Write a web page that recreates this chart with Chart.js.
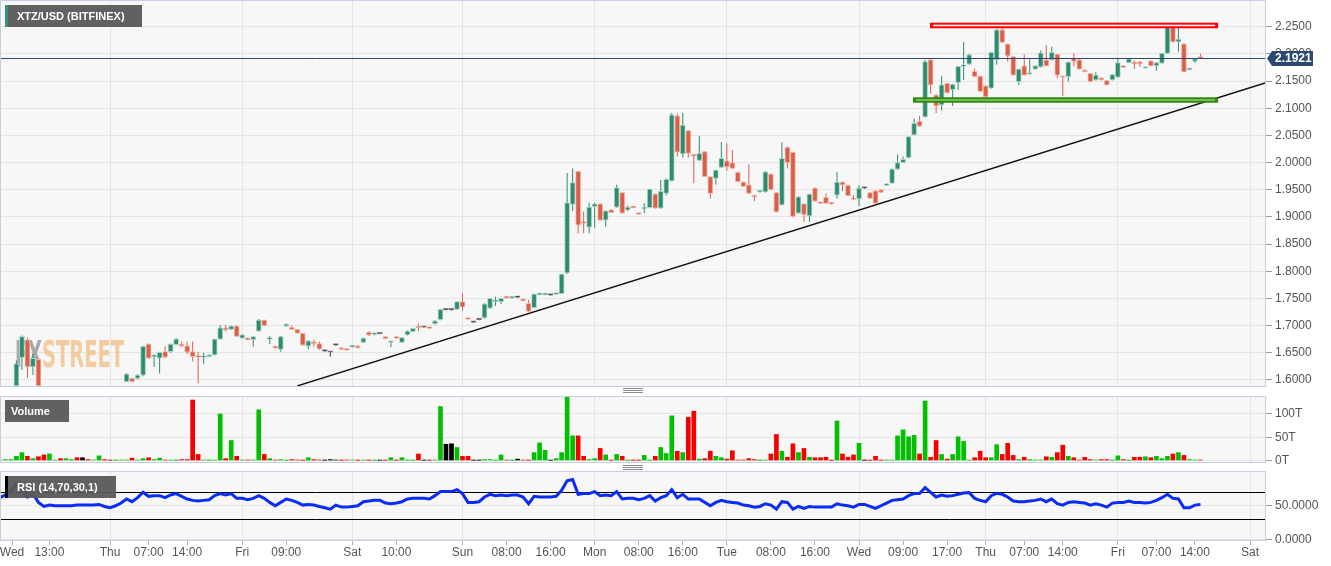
<!DOCTYPE html>
<html>
<head>
<meta charset="utf-8">
<script src="https://cdn.jsdelivr.net/npm/chart.js@4.4.0/dist/chart.umd.min.js"></script>
<style>
  body { margin: 0; background: #fff; width: 1331px; height: 566px; overflow: hidden; font-family: "Liberation Sans", Arial, sans-serif; }
  .pane { position: absolute; left: 0; width: 1331px; }
  .tag { position: absolute; height: 22px; line-height: 22px; background: rgba(88,88,88,0.95); color: #fff; font-weight: bold; font-size: 11px; box-sizing: border-box; white-space: nowrap; }
  .grip { position: absolute; left: 623px; width: 20px; height: 1px; background: #8a8a8a; box-shadow: 0 2px 0 #8a8a8a, 0 4px 0 #8a8a8a; }
</style>
</head>
<body>
<div class="pane" style="top:0;height:388px"><canvas id="mainChart"></canvas></div>
<div class="pane" style="top:392px;height:76px"><canvas id="volChart"></canvas></div>
<div class="pane" style="top:468px;height:98px"><canvas id="rsiChart"></canvas></div>
<div class="grip" style="top:388px"></div>
<div class="grip" style="top:465px"></div>
<div class="tag" style="left:5px;top:5px;width:137px;border-left:3px solid #3b8f7b;padding-left:9px">XTZ/USD (BITFINEX)</div>
<div class="tag" style="left:5px;top:400px;width:64px;padding-left:6px">Volume</div>
<div class="tag" style="left:5px;top:476px;width:111px;border-left:3px solid #000;padding-left:9px">RSI (14,70,30,1)</div>
<script>
// hourly candles, slot -3 is the first one (partly below the visible range)
const firstSlot = -3;

const opens = [
  1.572,1.574,1.577,1.580,1.641,1.674,1.624,1.638,1.576,1.571,
  1.578,1.579,1.575,1.578,1.579,1.575,1.575,1.574,1.575,1.580,
  1.576,1.574,1.577,1.597,1.603,1.603,1.609,1.666,1.643,1.640,
  1.652,1.652,1.665,1.666,1.663,1.652,1.645,1.642,1.643,1.646,
  1.675,1.696,1.693,1.699,1.677,1.677,1.674,1.690,1.710,1.675,
  1.662,1.656,1.699,1.697,1.693,1.686,1.662,1.670,1.667,1.653,
  1.651,1.664,1.659,1.657,1.661,1.663,1.669,1.688,1.684,1.685,
  1.680,1.669,1.679,1.669,1.683,1.689,1.697,1.697,1.697,1.703,
  1.711,1.729,1.729,1.730,1.744,1.713,1.706,1.711,1.714,1.732,
  1.744,1.744,1.752,1.751,1.752,1.749,1.741,1.733,1.757,1.757,
  1.756,1.758,1.759,1.797,1.923,1.984,1.889,1.881,1.919,1.924,
  1.894,1.913,1.918,1.945,1.913,1.918,1.906,1.915,1.917,1.942,
  1.916,1.943,1.966,2.086,2.016,2.059,2.015,2.004,2.020,1.974,
  1.971,1.991,2.003,2.000,1.982,1.964,1.959,1.940,1.946,1.946,
  1.979,1.945,1.922,2.028,2.019,1.907,1.924,1.902,1.953,1.926,
  1.936,1.925,1.940,1.964,1.958,1.933,1.933,1.953,1.945,1.948,
  1.950,1.958,1.962,1.988,2.000,2.009,2.051,2.076,2.084,2.189,
  2.124,2.106,2.146,2.134,2.147,2.177,2.181,2.168,2.159,2.141,
  2.137,2.189,2.244,2.218,2.195,2.149,2.178,2.163,2.172,2.176,
  2.189,2.189,2.199,2.158,2.158,2.192,2.189,2.170,2.164,2.152,
  2.156,2.151,2.152,2.157,2.178,2.184,2.183,2.183,2.174,2.187,
  2.178,2.183,2.201,2.250,2.222,2.218,2.171,2.186,2.195
];
const highs = [
  1.576,1.579,1.583,1.636,1.682,1.678,1.649,1.640,1.580,1.582,
  1.580,1.581,1.580,1.580,1.580,1.577,1.576,1.576,1.582,1.581,
  1.577,1.579,1.586,1.613,1.604,1.611,1.663,1.667,1.647,1.652,
  1.662,1.667,1.677,1.671,1.671,1.671,1.652,1.650,1.647,1.676,
  1.701,1.701,1.700,1.701,1.684,1.678,1.681,1.712,1.711,1.681,
  1.663,1.681,1.704,1.700,1.694,1.687,1.673,1.674,1.671,1.654,
  1.652,1.665,1.660,1.658,1.663,1.664,1.678,1.689,1.687,1.686,
  1.681,1.672,1.681,1.679,1.691,1.696,1.704,1.698,1.698,1.710,
  1.731,1.730,1.730,1.745,1.759,1.714,1.707,1.712,1.741,1.751,
  1.753,1.751,1.753,1.753,1.753,1.750,1.747,1.759,1.760,1.759,
  1.757,1.760,1.796,1.981,1.989,1.985,1.910,1.926,1.926,1.925,
  1.912,1.914,1.959,1.946,1.921,1.919,1.907,1.925,1.952,1.943,
  1.968,1.971,2.091,2.090,2.091,2.060,2.016,2.049,2.021,1.975,
  1.987,2.038,2.035,2.023,1.983,1.965,1.997,1.941,1.948,1.984,
  1.980,1.946,2.037,2.030,2.020,1.938,1.925,1.943,1.954,1.927,
  1.943,1.926,1.983,1.965,1.959,1.940,1.958,1.954,1.946,1.949,
  1.951,1.962,1.989,2.015,2.011,2.049,2.081,2.086,2.189,2.190,
  2.126,2.159,2.147,2.145,2.178,2.222,2.200,2.173,2.160,2.142,
  2.204,2.246,2.247,2.219,2.196,2.173,2.199,2.190,2.179,2.206,
  2.216,2.213,2.200,2.159,2.186,2.201,2.190,2.171,2.165,2.166,
  2.157,2.152,2.163,2.193,2.179,2.192,2.188,2.187,2.176,2.188,
  2.185,2.202,2.252,2.254,2.252,2.220,2.173,2.192,2.200
];
const lows = [
  1.570,1.572,1.575,1.578,1.619,1.604,1.609,1.572,1.566,1.569,
  1.576,1.573,1.574,1.577,1.573,1.573,1.572,1.573,1.574,1.575,
  1.573,1.573,1.576,1.596,1.596,1.601,1.607,1.639,1.624,1.612,
  1.640,1.650,1.664,1.661,1.648,1.634,1.594,1.630,1.642,1.645,
  1.674,1.689,1.692,1.679,1.676,1.673,1.661,1.689,1.699,1.666,
  1.658,1.652,1.698,1.692,1.685,1.663,1.656,1.661,1.655,1.652,
  1.643,1.663,1.655,1.654,1.660,1.658,1.668,1.681,1.682,1.684,
  1.675,1.660,1.676,1.668,1.682,1.688,1.690,1.696,1.694,1.702,
  1.710,1.728,1.728,1.729,1.727,1.711,1.705,1.710,1.713,1.731,
  1.736,1.740,1.750,1.750,1.751,1.745,1.725,1.732,1.756,1.756,
  1.755,1.757,1.758,1.795,1.911,1.870,1.870,1.870,1.880,1.893,
  1.882,1.907,1.917,1.906,1.911,1.916,1.904,1.907,1.916,1.915,
  1.915,1.940,1.965,2.011,2.009,2.009,1.962,2.003,1.973,1.934,
  1.959,1.990,1.985,1.988,1.964,1.955,1.942,1.929,1.945,1.945,
  1.949,1.908,1.921,1.989,1.899,1.906,1.891,1.891,1.928,1.924,
  1.924,1.923,1.934,1.947,1.938,1.931,1.920,1.952,1.933,1.924,
  1.944,1.957,1.961,1.987,1.999,2.008,2.050,2.066,2.083,2.127,
  2.091,2.096,2.127,2.104,2.134,2.152,2.180,2.157,2.130,2.115,
  2.136,2.180,2.220,2.186,2.160,2.143,2.160,2.162,2.171,2.175,
  2.177,2.188,2.155,2.122,2.149,2.177,2.171,2.166,2.148,2.151,
  2.151,2.142,2.151,2.156,2.174,2.183,2.172,2.176,2.173,2.177,
  2.169,2.182,2.200,2.221,2.204,2.166,2.170,2.183,2.191
];
const closes = [
  1.574,1.577,1.580,1.630,1.680,1.624,1.640,1.575,1.571,1.578,
  1.579,1.575,1.578,1.579,1.575,1.575,1.574,1.575,1.580,1.576,
  1.574,1.577,1.583,1.611,1.597,1.609,1.662,1.640,1.645,1.651,
  1.642,1.666,1.675,1.662,1.651,1.643,1.642,1.643,1.646,1.675,
  1.696,1.692,1.699,1.680,1.683,1.674,1.680,1.710,1.700,1.676,
  1.659,1.680,1.703,1.693,1.686,1.664,1.672,1.667,1.657,1.653,
  1.651,1.664,1.656,1.655,1.662,1.659,1.677,1.683,1.685,1.685,
  1.676,1.671,1.677,1.678,1.690,1.695,1.696,1.697,1.695,1.709,
  1.730,1.729,1.729,1.744,1.734,1.712,1.706,1.711,1.740,1.750,
  1.745,1.750,1.751,1.752,1.752,1.746,1.726,1.758,1.759,1.758,
  1.756,1.759,1.795,1.926,1.963,1.885,1.888,1.918,1.924,1.894,
  1.911,1.908,1.954,1.907,1.918,1.917,1.905,1.916,1.951,1.916,
  1.947,1.969,2.088,2.019,2.069,2.017,2.012,2.017,1.974,1.943,
  1.986,2.008,1.992,1.989,1.965,1.956,1.943,1.937,1.947,1.983,
  1.950,1.909,2.008,2.000,1.901,1.937,1.904,1.942,1.929,1.925,
  1.925,1.924,1.964,1.959,1.939,1.932,1.953,1.953,1.934,1.925,
  1.945,1.961,1.988,2.000,2.006,2.048,2.072,2.067,2.186,2.143,
  2.104,2.143,2.128,2.144,2.177,2.180,2.198,2.158,2.131,2.121,
  2.203,2.244,2.221,2.196,2.161,2.172,2.161,2.165,2.178,2.202,
  2.178,2.203,2.161,2.157,2.185,2.186,2.172,2.167,2.149,2.161,
  2.152,2.143,2.162,2.184,2.175,2.191,2.182,2.182,2.175,2.178,
  2.184,2.201,2.250,2.222,2.227,2.167,2.172,2.191,2.1921
];
// volume in thousands ("T")
const volumes = [
  1,2,2,9,17,9,4,8,12,14,
  1,4,4,2,6,6,2,1,10,2,
  0.5,0.5,1,1,5,1,4,6,2,5,
  1,1,0.5,2,2,130,13,1,0.5,1,
  100,4,43,9,1,1,1,109,13,4,
  1,2,0.5,2,1,0.5,6,2,1,0.5,
  2,1,0.5,1,1,0.5,1,0.5,0.5,0.5,
  0.5,6,0.5,6,0.5,0.5,14,0.5,0.5,1,
  116,35,36,28,9,9,0.5,0.5,2,2,
  0.5,12,1,0.5,3,1,0.5,17,38,22,
  0.5,4,17,139,53,53,9,2,4,26,
  12,0.5,13,9,0.5,0.5,0.5,11,0.5,9,
  28,15,96,20,17,93,106,3,4,20,
  9,6,3,21,1,1,4,2,0.5,1,
  14,56,20,7,36,17,26,7,6,6,
  7,0.5,85,14,7,12,37,0.5,0.5,9,
  0.5,1,1,53,66,51,54,14,128,7,
  43,13,3,13,51,41,1,6,20,6,
  6,34,13,37,11,2,7,2,1,1,
  8,7,17,33,9,6,1,7,2,1,
  2,2,0.5,10,2,0.5,7,7,8,6,
  9,4,9,14,17,11,2,1,1
];
const rsi = [
  62,66,72,83,72,63,68,55,49,51,
  50,50,50,50,51,51,51,51,52,49,
  47,50,54,60,56,62,70,64,65,65,
  62,66,68,64,60,58,57,58,59,65,
  68,66,68,61,61,59,61,65,61,55,
  50,55,60,58,55,51,52,51,49,47,
  45,51,48,48,49,50,56,57,58,58,
  54,53,54,56,60,61,61,61,60,65,
  71,71,71,74,68,55,55,56,63,67,
  65,66,65,66,66,63,53,64,63,63,
  63,64,73,87,89,67,68,68,71,65,
  66,65,71,60,61,61,59,61,65,57,
  62,65,74,62,67,60,60,60,55,50,
  55,58,56,55,54,51,50,48,49,53,
  51,45,56,55,45,49,46,49,48,48,
  48,48,53,51,50,48,52,52,49,46,
  50,54,58,59,60,65,68,68,77,70,
  63,66,64,65,67,69,69.5,61,58,56,
  65,68.5,67,63,57,56,56,57,58,60,
  56,60,53,51,55,56,55,54,51,53,
  51,48,54,55,55,57,55,55,54,55,
  58,62,67,61,60,47,47,51,52
];

// time axis: slot positions of the labels
const tickSlots  = [-0.8, 6, 17, 24, 31, 41, 49, 61, 69, 81, 89, 97, 105, 113, 121, 129, 137, 145, 153, 161, 169, 176, 183, 190, 200, 207, 214, 224];
const tickLabels = ['Wed','13:00','Thu','07:00','14:00','Fri','09:00','Sat','10:00','Sun','08:00','16:00','Mon','08:00','16:00','Tue','08:00','16:00','Wed','09:00','17:00','Thu','07:00','14:00','Fri','07:00','14:00','Sat'];
const daySlots = [17, 41, 61, 81, 105, 129, 153, 176, 200, 224];

const priceMin = 1.5889, priceMax = 2.2991;
const priceTicks = [1.60,1.65,1.70,1.75,1.80,1.85,1.90,1.95,2.00,2.05,2.10,2.15,2.20,2.25];
const volTicks = [0, 50, 100];
const rsiTicks = [0, 50];
const rsiUpper = 70, rsiLower = 30;

// drawn lines and zones: [slot, price]
const trendStart = [51, 1.589];
const trendEnd = [226.9, 2.147];
const resistanceZone = [165.9, 218.2, 2.2471, 2.2574];
const supportZone = [162.8, 218.2, 2.1101, 2.1201];
const lastPrice = closes[closes.length - 1];

const FONT = '"Liberation Sans", Arial, sans-serif';
Chart.defaults.font.family = FONT;

const xMin = -2.98, xMax = 226.9;
const slots = opens.map((_, k) => firstSlot + k);
const dir = k => closes[k] > opens[k] ? 1 : (closes[k] < opens[k] ? -1 : 0);
const bodyCol = k => ({ 1: '#2f8a6f', '-1': '#d85f4a', 0: '#333333' })[dir(k)];
const edgeCol = k => ({ 1: '#a6d4c4', '-1': '#f2b3a7', 0: '#8a8a8a' })[dir(k)];
const volCol = k => ({ 1: '#00c000', '-1': '#f40000', 0: '#000000' })[dir(k)];

// floating range cut at the bottom of the price pane (candles below it are off-screen)
function inView(lo, hi) {
  if (hi <= priceMin) return null;
  return [Math.max(lo, priceMin), hi];
}

function xAxis(showLabels) {
  return {
    type: 'linear', min: xMin, max: xMax, offset: false,
    afterBuildTicks: s => { s.ticks = tickSlots.map(v => ({ value: v })); },
    afterFit: s => { s.height = showLabels ? 26 : 0; s.paddingLeft = 0; s.paddingRight = 0; },
    grid: {
      offset: false,
      color: c => (c.tick && daySlots.includes(c.tick.value)) ? '#e5e5e5' : 'rgba(0,0,0,0)',
      drawTicks: showLabels, tickLength: 5, tickColor: '#b0b0b0'
    },
    border: { display: false },
    ticks: {
      display: showLabels, autoSkip: false, maxRotation: 0, padding: 0,
      color: '#555', font: { size: 12 },
      callback: (v, i) => tickLabels[i]
    }
  };
}

function yAxis(min, max, ticks, fmt) {
  return {
    position: 'right', min: min, max: max,
    afterBuildTicks: s => { s.ticks = ticks.map(v => ({ value: v })); },
    afterFit: s => { s.width = 65; s.paddingTop = 0; s.paddingBottom = 0; },
    grid: { color: '#e5e5e5', tickColor: '#9a9a9a', tickLength: 6 },
    border: { display: false },
    ticks: { padding: 3, color: '#555', font: { size: 12 }, callback: fmt }
  };
}

// plot background and frame for every pane
const paneFrame = {
  id: 'paneFrame',
  beforeDraw(chart) {
    const a = chart.chartArea, ctx = chart.ctx;
    ctx.save();
    ctx.fillStyle = '#f7f7f7';
    ctx.fillRect(a.left, a.top, a.right - a.left, a.bottom - a.top);
    ctx.restore();
  },
  afterDraw(chart) {
    const a = chart.chartArea, ctx = chart.ctx;
    ctx.save();
    ctx.strokeStyle = '#c6cfe1';
    ctx.lineWidth = 1;
    ctx.strokeRect(a.left + 0.5, a.top + 0.5, a.right - a.left - 1, a.bottom - a.top);
    ctx.restore();
  }
};

function drawZone(ctx, xs, ys, z, outer, inner) {
  const x1 = xs.getPixelForValue(z[0]), x2 = xs.getPixelForValue(z[1]);
  const yt = ys.getPixelForValue(z[3]), yb = ys.getPixelForValue(z[2]);
  ctx.fillStyle = outer;
  ctx.fillRect(x1, yt, x2 - x1, yb - yt);
  ctx.fillStyle = inner;
  ctx.fillRect(x1 + 3, yt + 2, x2 - x1 - 6, Math.max(1, yb - yt - 4));
}

const priceExtras = {
  id: 'priceExtras',
  beforeDatasetsDraw(chart) {
    const ctx = chart.ctx, a = chart.chartArea;
    ctx.save();
    ctx.globalAlpha = 0.85;
    ctx.font = 'bold 37px "DejaVu Sans Condensed", "DejaVu Sans", sans-serif';
    ctx.textBaseline = 'alphabetic';
    ctx.fillStyle = '#9b9b9b';
    ctx.fillText('FX', a.left + 15, 367, 27);
    ctx.fillStyle = '#f3c28f';
    ctx.fillText('STREET', a.left + 42, 367, 82);
    ctx.restore();
  },
  afterDatasetsDraw(chart) {
    const ctx = chart.ctx, a = chart.chartArea;
    const xs = chart.scales.x, ys = chart.scales.y;
    ctx.save();
    drawZone(ctx, xs, ys, resistanceZone, '#ff0000', '#fff2f2');
    drawZone(ctx, xs, ys, supportZone, '#2b8a0c', '#94cf72');
    const y = Math.round(ys.getPixelForValue(lastPrice)) + 0.5;
    ctx.strokeStyle = '#2c4a70';
    ctx.lineWidth = 1;
    ctx.beginPath();
    ctx.moveTo(a.left, y);
    ctx.lineTo(a.right, y);
    ctx.stroke();
    ctx.restore();
  },
  afterDraw(chart) {
    const ctx = chart.ctx, a = chart.chartArea, ys = chart.scales.y;
    const y = Math.round(ys.getPixelForValue(lastPrice)) + 0.5;
    const r = a.right;
    ctx.save();
    ctx.fillStyle = '#2c4a70';
    ctx.beginPath();
    ctx.moveTo(r + 1, y);
    ctx.lineTo(r + 6, y - 7.5);
    ctx.lineTo(r + 47, y - 7.5);
    ctx.lineTo(r + 47, y + 7.5);
    ctx.lineTo(r + 6, y + 7.5);
    ctx.closePath();
    ctx.fill();
    ctx.fillStyle = '#ffffff';
    ctx.font = 'bold 12px ' + FONT;
    ctx.textBaseline = 'middle';
    ctx.fillText(lastPrice.toFixed(4), r + 9, y + 0.5);
    ctx.restore();
  }
};

const rsiLevels = {
  id: 'rsiLevels',
  beforeDatasetsDraw(chart) {
    const ctx = chart.ctx, a = chart.chartArea, ys = chart.scales.y;
    ctx.save();
    ctx.strokeStyle = '#000';
    ctx.lineWidth = 1;
    [rsiUpper, rsiLower].forEach(v => {
      const y = Math.round(ys.getPixelForValue(v)) + 0.5;
      ctx.beginPath();
      ctx.moveTo(a.left, y);
      ctx.lineTo(a.right, y);
      ctx.stroke();
    });
    ctx.restore();
  }
};

const baseOpts = {
  responsive: true, maintainAspectRatio: false, animation: false, events: [],
  devicePixelRatio: 1,
  plugins: { legend: { display: false }, tooltip: { enabled: false } }
};

new Chart(document.getElementById('mainChart'), {
  type: 'bar',
  data: {
    datasets: [
      {
        data: slots.map((s, k) => ({ x: s, y: inView(lows[k], highs[k]) })),
        backgroundColor: slots.map((s, k) => bodyCol(k)),
        barThickness: 1, grouped: false, clip: 0, inflateAmount: 0, order: 2
      },
      {
        data: slots.map((s, k) => ({ x: s, y: inView(Math.min(opens[k], closes[k]), Math.max(opens[k], closes[k])) })),
        backgroundColor: slots.map((s, k) => bodyCol(k)),
        borderColor: slots.map((s, k) => edgeCol(k)),
        borderWidth: 1, borderSkipped: false, minBarLength: 1.5,
        barThickness: 5, grouped: false, clip: 0, order: 1
      },
      {
        type: 'line',
        data: [{ x: trendStart[0], y: trendStart[1] }, { x: trendEnd[0], y: trendEnd[1] }],
        borderColor: '#111', borderWidth: 1.4, pointRadius: 0, order: 0
      }
    ]
  },
  options: {
    ...baseOpts,
    layout: { padding: { top: 0, bottom: 2, left: 0, right: 0 } },
    scales: {
      x: xAxis(false),
      y: yAxis(priceMin, priceMax, priceTicks, v => v.toFixed(4))
    }
  },
  plugins: [paneFrame, priceExtras]
});

new Chart(document.getElementById('volChart'), {
  type: 'bar',
  data: {
    datasets: [{
      data: slots.map((s, k) => ({ x: s, y: volumes[k] })),
      backgroundColor: slots.map((s, k) => volCol(k)),
      barThickness: 4, clip: 0
    }]
  },
  options: {
    ...baseOpts,
    layout: { padding: { top: 4, bottom: 6, left: 0, right: 0 } },
    scales: {
      x: xAxis(false),
      y: yAxis(-3.2, 138.7, volTicks, v => v + 'T')
    }
  },
  plugins: [paneFrame]
});

new Chart(document.getElementById('rsiChart'), {
  type: 'line',
  data: {
    datasets: [{
      data: slots.map((s, k) => ({ x: s, y: rsi[k] })),
      borderColor: '#0a2cf5', borderWidth: 3, pointRadius: 0, tension: 0
    }]
  },
  options: {
    ...baseOpts,
    layout: { padding: { top: 3, bottom: 0, left: 0, right: 0 } },
    scales: {
      x: xAxis(true),
      y: yAxis(-0.7, 101.5, rsiTicks, v => v.toFixed(4))
    }
  },
  plugins: [paneFrame, rsiLevels]
});
</script>
</body>
</html>
